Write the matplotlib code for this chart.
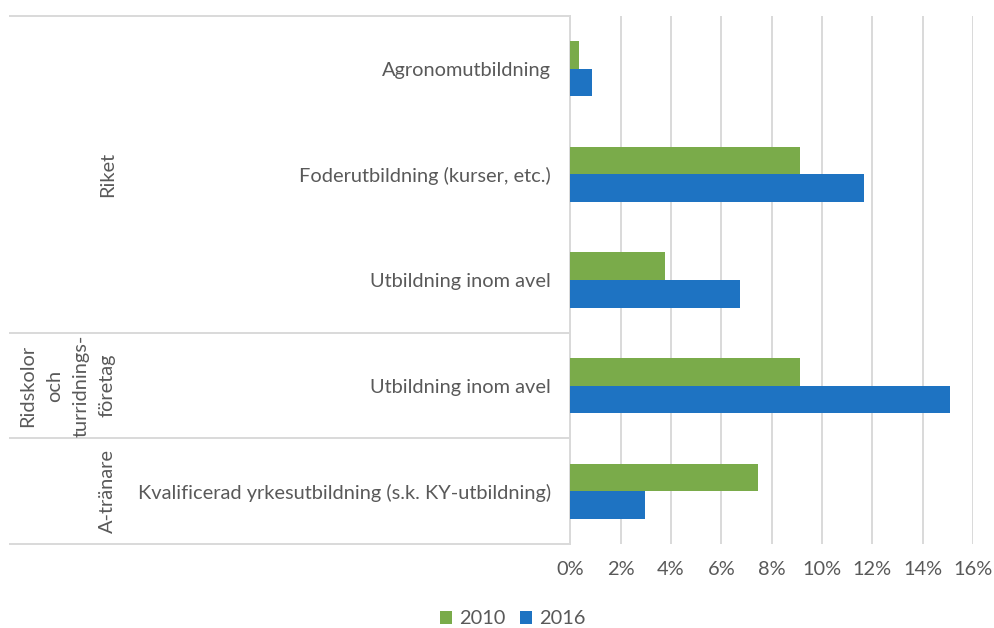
import matplotlib
matplotlib.use("Agg")
import matplotlib.pyplot as plt
import matplotlib.transforms as mtransforms
from matplotlib.ticker import FuncFormatter
import numpy as np

categories = ["Agronomutbildning", "Foderutbildning (kurser, etc.)", "Utbildning inom avel",
              "Utbildning inom avel", "Kvalificerad yrkesutbildning (s.k. KY-utbildning)"]
groups = ["Riket", "Ridskolor\noch\nturridnings-\nföretag", "A-tränare"]
group_spans = [(0, 2), (3, 3), (4, 4)]
series_names = ["2010", "2016"]
values_2010 = [0.35, 9.12, 3.78, 9.12, 7.45]
values_2016 = [0.87, 11.67, 6.76, 15.07, 2.96]
xticks = [0, 2, 4, 6, 8, 10, 12, 14, 16]

GREEN = "#7AAB4A"
BLUE = "#1E73C2"
GRID = "#D9D9D9"
TXT = "#595959"
FS = 14.4

plt.rcParams['font.family'] = ['Lato', 'DejaVu Sans']

W, H = 994, 628
fig = plt.figure(figsize=(W / 100, H / 100), dpi=100)
x0, x1 = 570.3, 973
y0, y1 = 16, 544
ax = fig.add_axes([x0 / W, 1 - y1 / H, (x1 - x0) / W, (y1 - y0) / H])

pos = np.arange(len(categories))
h = 0.261
ax.barh(pos - h / 2, values_2010, height=h, color=GREEN, label=series_names[0], zorder=3)
ax.barh(pos + h / 2, values_2016, height=h, color=BLUE, label=series_names[1], zorder=3)

ax.set_ylim(len(categories) - 0.5, -0.5)
ax.set_xlim(0, 16)
ax.set_xticks(xticks)
ax.xaxis.set_major_formatter(FuncFormatter(lambda v, p: f"{v:.0f}%"))
ax.grid(axis='x', color=GRID, linewidth=1.4, zorder=0)
ax.set_axisbelow(True)
for s in ['top', 'right', 'bottom']:
    ax.spines[s].set_visible(False)
ax.spines['left'].set_color(GRID)
ax.spines['left'].set_linewidth(1.4)
ax.tick_params(axis='x', length=0, pad=12, labelsize=FS, labelcolor=TXT)
ax.set_yticks(pos)
ax.set_yticklabels(categories)
ax.tick_params(axis='y', length=0, pad=14, labelsize=FS, labelcolor=TXT)

# separator lines
trans = mtransforms.blended_transform_factory(ax.transAxes, ax.transData)
left_ax = (10 - x0) / (x1 - x0)
for yv in [-0.5, 2.5, 3.5, 4.5]:
    ax.plot([left_ax, 0], [yv, yv], transform=trans, color=GRID, linewidth=1.4, clip_on=False)

# group labels
gx = (116 - x0) / (x1 - x0)
for g, (a, b) in zip(groups, group_spans):
    ax.text(gx, (a + b) / 2, g, transform=trans, rotation=90, ha='right', va='center',
            multialignment='center', fontsize=FS, color=TXT, linespacing=1.68)

fig.legend(loc='center', bbox_to_anchor=(513 / W, 1 - 619 / H), ncol=2, frameon=False,
           fontsize=FS, labelcolor=TXT, handlelength=0.6, handleheight=0.6,
           handletextpad=0.35, columnspacing=0.75)

fig.savefig("out.png", dpi=100)
